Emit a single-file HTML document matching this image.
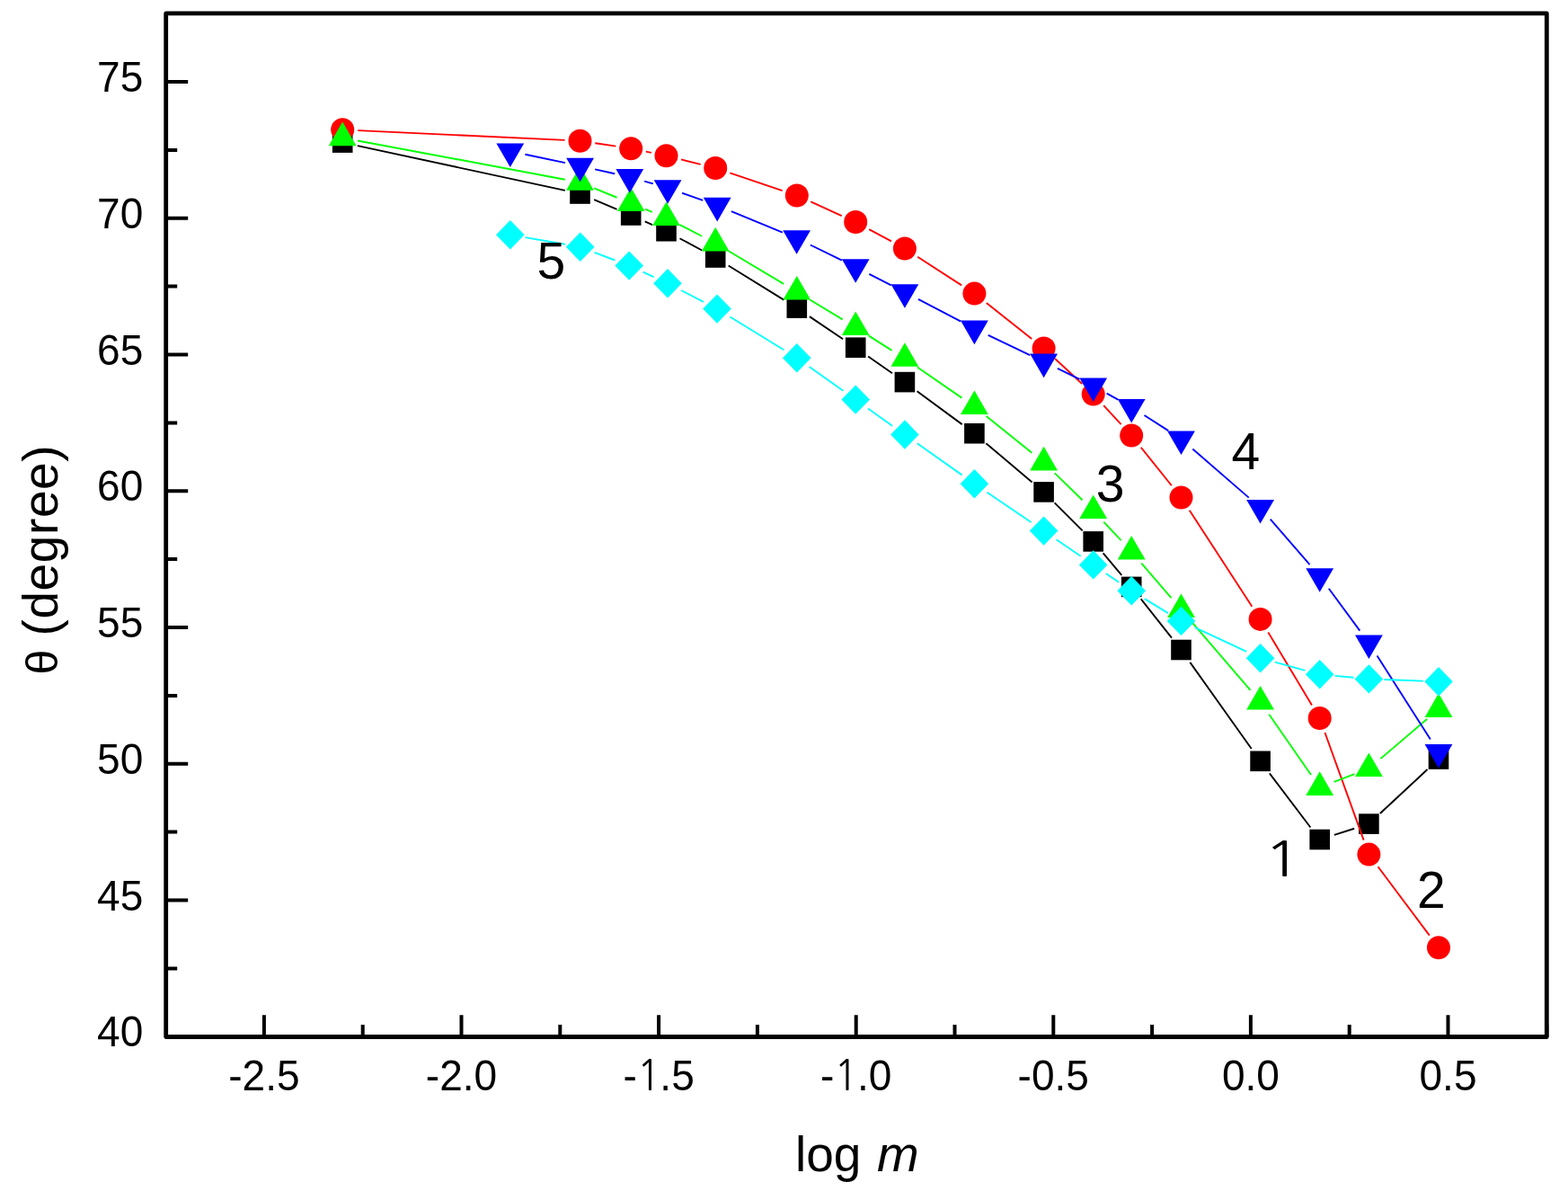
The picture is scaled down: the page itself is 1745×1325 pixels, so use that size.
<!DOCTYPE html>
<html><head><meta charset="utf-8"><title>theta vs log m</title>
<style>html,body{margin:0;padding:0;background:#fff;overflow:hidden;}svg{display:block;}</style>
</head><body>
<svg width="1745" height="1325" viewBox="0 0 1745 1325">
<rect width="1745" height="1325" fill="#fff"/>
<g><path d="M397.82 162.18L628.88 211.92M661.16 222.13L686.54 232.87M717.7 246.48L726 250.22M756.49 265.23L781.21 278.47M810.65 295.45L872.35 333.65M900.89 352.1L938.11 377.2M966.11 396.47L992.99 415.33M1020.59 435.18L1070.71 472.12M1097.39 493.17L1148.61 536.43M1173.63 559.41L1204.67 590.39M1227.65 615.41L1248.25 639.89M1269.73 666.25L1303.97 709.65M1324.36 736.85L1392.74 832.95M1412.87 860.35L1458.43 920.45M1484.9 928.85L1507.2 921.75M1535.85 905.03L1588.55 856.07" stroke="#000000" stroke-width="1.9" fill="none"/><g fill="#000000"><rect x="369.9" y="147.3" width="22.6" height="22.6"/><rect x="634.2" y="204.2" width="22.6" height="22.6"/><rect x="690.9" y="228.2" width="22.6" height="22.6"/><rect x="730.2" y="245.9" width="22.6" height="22.6"/><rect x="784.9" y="275.2" width="22.6" height="22.6"/><rect x="875.5" y="331.3" width="22.6" height="22.6"/><rect x="940.9" y="375.4" width="22.6" height="22.6"/><rect x="995.6" y="413.8" width="22.6" height="22.6"/><rect x="1073.1" y="470.9" width="22.6" height="22.6"/><rect x="1150.3" y="536.1" width="22.6" height="22.6"/><rect x="1205.4" y="591.1" width="22.6" height="22.6"/><rect x="1247.9" y="641.6" width="22.6" height="22.6"/><rect x="1303.2" y="711.7" width="22.6" height="22.6"/><rect x="1391.3" y="835.5" width="22.6" height="22.6"/><rect x="1457.4" y="922.7" width="22.6" height="22.6"/><rect x="1512.1" y="905.3" width="22.6" height="22.6"/><rect x="1589.7" y="833.2" width="22.6" height="22.6"/></g><path d="M398.18 145.1L628.52 155.9M662.31 159.22L685.39 162.68M718.85 168.63L724.85 169.87M757.99 177.43L779.71 182.87M812.31 192.42L870.69 212.08M902.3 224.49L936.7 240.01M967.16 255.07L991.94 268.43M1021.18 285.73L1070.12 317.37M1097.76 337.12L1148.24 376.88M1174.05 398.97L1204.25 427.03M1228.25 451.07L1247.65 472.03M1269.83 497.77L1303.87 540.23M1323.77 567.75L1393.33 674.65M1411.35 703.48L1459.95 784.42M1474.47 814.99L1517.63 934.61M1533.59 964.21L1590.81 1040.69" stroke="#ff0000" stroke-width="1.9" fill="none"/><g fill="#ff0000"><circle cx="381.2" cy="144.3" r="13"/><circle cx="645.5" cy="156.7" r="13"/><circle cx="702.2" cy="165.2" r="13"/><circle cx="741.5" cy="173.3" r="13"/><circle cx="796.2" cy="187" r="13"/><circle cx="886.8" cy="217.5" r="13"/><circle cx="952.2" cy="247" r="13"/><circle cx="1006.9" cy="276.5" r="13"/><circle cx="1084.4" cy="326.6" r="13"/><circle cx="1161.6" cy="387.4" r="13"/><circle cx="1216.7" cy="438.6" r="13"/><circle cx="1259.2" cy="484.5" r="13"/><circle cx="1314.5" cy="553.5" r="13"/><circle cx="1402.6" cy="688.9" r="13"/><circle cx="1468.7" cy="799" r="13"/><circle cx="1523.4" cy="950.6" r="13"/><circle cx="1601" cy="1054.3" r="13"/></g><path d="M397.91 156.46L628.79 199.7M661.21 209.32L686.49 219.75M717.95 232.64L725.75 235.82M756.6 250.05L781.1 262.72M810.8 279.25L872.2 315.92M901.34 333.44L937.66 355.43M966.56 373.34L992.54 389.83M1020.91 408.57L1070.39 442.6M1097.63 462.91L1148.37 503.86M1173.79 526.39L1204.51 556.28M1228.3 580.56L1247.6 601.21M1270.27 626.54L1303.43 665.23M1325.57 691.03L1391.53 767.84M1412.29 794.7L1459.01 862.06M1484.58 869.97L1507.52 861.2M1536.34 844.11L1588.06 800.06" stroke="#00ff00" stroke-width="1.9" fill="none"/><g fill="#00ff00"><path d="M381.2 135.6L396.6 162.2L365.8 162.2Z"/><path d="M645.5 185.1L660.9 211.7L630.1 211.7Z"/><path d="M702.2 208.5L717.6 235.1L686.8 235.1Z"/><path d="M741.5 224.5L756.9 251.1L726.1 251.1Z"/><path d="M796.2 252.8L811.6 279.4L780.8 279.4Z"/><path d="M886.8 306.9L902.2 333.5L871.4 333.5Z"/><path d="M952.2 346.5L967.6 373.1L936.8 373.1Z"/><path d="M1006.9 381.2L1022.3 407.8L991.5 407.8Z"/><path d="M1084.4 434.5L1099.8 461.1L1069 461.1Z"/><path d="M1161.6 496.8L1177 523.4L1146.2 523.4Z"/><path d="M1216.7 550.4L1232.1 577L1201.3 577Z"/><path d="M1259.2 595.9L1274.6 622.5L1243.8 622.5Z"/><path d="M1314.5 660.4L1329.9 687L1299.1 687Z"/><path d="M1402.6 763L1418 789.6L1387.2 789.6Z"/><path d="M1468.7 858.3L1484.1 884.9L1453.3 884.9Z"/><path d="M1523.4 837.4L1538.8 864L1508 864Z"/><path d="M1601 771.3L1616.4 797.9L1585.6 797.9Z"/></g><path d="M584.43 171.77L628.97 181.16M662.19 188.36L684.21 193.27M717.14 201.64L726.76 204.39M759.12 214.76L782.18 222.97M813.92 235.14L870.88 258.59M901.88 272.52L936.92 289.61M967.33 304.81L991.77 317.32M1021.97 332.92L1069.33 357.61M1099.73 372.81L1146.27 395.12M1176.88 409.92L1201.42 421.91M1231.59 437.57L1244.31 444.57M1273.49 461.97L1300.21 479.16M1327.34 499.5L1389.76 553.63M1413.73 577.62L1457.57 628.22M1478.79 654.75L1513.31 701.58M1532.55 729.59L1591.85 822.44" stroke="#0000ff" stroke-width="1.9" fill="none"/><g fill="#0000ff"><path d="M552.4 159.4L583.2 159.4L567.8 186Z"/><path d="M630.2 175.8L661 175.8L645.6 202.4Z"/><path d="M685.4 188.1L716.2 188.1L700.8 214.7Z"/><path d="M727.7 200.2L758.5 200.2L743.1 226.8Z"/><path d="M782.8 219.8L813.6 219.8L798.2 246.4Z"/><path d="M871.2 256.2L902 256.2L886.6 282.8Z"/><path d="M936.8 288.2L967.6 288.2L952.2 314.8Z"/><path d="M991.5 316.2L1022.3 316.2L1006.9 342.8Z"/><path d="M1069 356.6L1099.8 356.6L1084.4 383.2Z"/><path d="M1146.2 393.6L1177 393.6L1161.6 420.2Z"/><path d="M1201.3 420.5L1232.1 420.5L1216.7 447.1Z"/><path d="M1243.8 443.9L1274.6 443.9L1259.2 470.5Z"/><path d="M1299.1 479.5L1329.9 479.5L1314.5 506.1Z"/><path d="M1387.2 555.9L1418 555.9L1402.6 582.5Z"/><path d="M1453.3 632.2L1484.1 632.2L1468.7 658.8Z"/><path d="M1508 706.4L1538.8 706.4L1523.4 733Z"/><path d="M1585.6 827.9L1616.4 827.9L1601 854.5Z"/></g><path d="M584.55 264.1L628.95 271.8M661.57 280.79L684.33 289.51M715.66 302.68L727.54 308.12M758.11 323L782.89 335.8M812.48 352.5L872.32 389.3M900.66 408.04L938.34 434.76M966.05 454.45L993.05 473.65M1020.79 493.3L1070.51 528.4M1098.47 547.75L1147.53 581.05M1175.62 600.22L1202.68 618.78M1230.76 637.96L1245.14 647.74M1273.73 666.13L1299.97 682.07M1329.89 698.12L1387.21 724.98M1419 736.69L1452.3 745.81M1485.63 751.88L1506.47 753.82M1540.39 756.01L1584.01 757.59" stroke="#00ffff" stroke-width="1.9" fill="none"/><g fill="#00ffff"><path d="M567.8 245L583.6 261.2L567.8 277.4L552 261.2Z"/><path d="M645.7 258.5L661.5 274.7L645.7 290.9L629.9 274.7Z"/><path d="M700.2 279.4L716 295.6L700.2 311.8L684.4 295.6Z"/><path d="M743 299L758.8 315.2L743 331.4L727.2 315.2Z"/><path d="M798 327.4L813.8 343.6L798 359.8L782.2 343.6Z"/><path d="M886.8 382L902.6 398.2L886.8 414.4L871 398.2Z"/><path d="M952.2 428.4L968 444.6L952.2 460.8L936.4 444.6Z"/><path d="M1006.9 467.3L1022.7 483.5L1006.9 499.7L991.1 483.5Z"/><path d="M1084.4 522L1100.2 538.2L1084.4 554.4L1068.6 538.2Z"/><path d="M1161.6 574.4L1177.4 590.6L1161.6 606.8L1145.8 590.6Z"/><path d="M1216.7 612.2L1232.5 628.4L1216.7 644.6L1200.9 628.4Z"/><path d="M1259.2 641.1L1275 657.3L1259.2 673.5L1243.4 657.3Z"/><path d="M1314.5 674.7L1330.3 690.9L1314.5 707.1L1298.7 690.9Z"/><path d="M1402.6 716L1418.4 732.2L1402.6 748.4L1386.8 732.2Z"/><path d="M1468.7 734.1L1484.5 750.3L1468.7 766.5L1452.9 750.3Z"/><path d="M1523.4 739.2L1539.2 755.4L1523.4 771.6L1507.6 755.4Z"/><path d="M1601 742L1616.8 758.2L1601 774.4L1585.2 758.2Z"/></g></g>
<path d="M293.9 1153.5V1129.2M513.5 1153.5V1129.2M733.1 1153.5V1129.2M952.7 1153.5V1129.2M1172.3 1153.5V1129.2M1391.9 1153.5V1129.2M1611.5 1153.5V1129.2M403.7 1153.5V1140M623.3 1153.5V1140M842.9 1153.5V1140M1062.5 1153.5V1140M1282.1 1153.5V1140M1501.7 1153.5V1140M1721.3 1153.5V1140M184.7 1153.25H209.2M184.7 1001.5H209.2M184.7 849.75H209.2M184.7 698H209.2M184.7 546.25H209.2M184.7 394.5H209.2M184.7 242.75H209.2M184.7 91H209.2M184.7 1077.38H197.2M184.7 925.62H197.2M184.7 773.88H197.2M184.7 622.12H197.2M184.7 470.38H197.2M184.7 318.62H197.2M184.7 166.88H197.2" stroke="#000" stroke-width="4.0" fill="none"/>
<rect x="184.7" y="14.9" width="1536.6" height="1138.6" stroke="#000" stroke-width="4.8" stroke-linejoin="round" fill="none"/>
<g font-family="Liberation Sans, Arial, sans-serif" font-size="49" fill="#000"><text transform="translate(293.9 1212.8) scale(0.94 1)" text-anchor="middle">-2.5</text><text transform="translate(513.5 1212.8) scale(0.94 1)" text-anchor="middle">-2.0</text><text transform="translate(733.1 1212.8) scale(0.94 1)" text-anchor="middle">-<tspan font-family="NanumGothic, sans-serif" font-size="46.8">1</tspan><tspan dx="-1.11">.</tspan>5</text><text transform="translate(952.7 1212.8) scale(0.94 1)" text-anchor="middle">-<tspan font-family="NanumGothic, sans-serif" font-size="46.8">1</tspan><tspan dx="-1.11">.</tspan>0</text><text transform="translate(1172.3 1212.8) scale(0.94 1)" text-anchor="middle">-0.5</text><text transform="translate(1391.9 1212.8) scale(0.94 1)" text-anchor="middle">0.0</text><text transform="translate(1611.5 1212.8) scale(0.94 1)" text-anchor="middle">0.5</text><text transform="translate(159.3 1164.35) scale(0.94 1)" text-anchor="end">40</text><text transform="translate(159.3 1012.6) scale(0.94 1)" text-anchor="end">45</text><text transform="translate(159.3 860.85) scale(0.94 1)" text-anchor="end">50</text><text transform="translate(159.3 709.1) scale(0.94 1)" text-anchor="end">55</text><text transform="translate(159.3 557.35) scale(0.94 1)" text-anchor="end">60</text><text transform="translate(159.3 405.6) scale(0.94 1)" text-anchor="end">65</text><text transform="translate(159.3 253.85) scale(0.94 1)" text-anchor="end">70</text><text transform="translate(159.3 102.1) scale(0.94 1)" text-anchor="end">75</text></g>
<g font-family="Liberation Sans, Arial, sans-serif" font-size="57" fill="#000"><text x="597.4" y="310.4">5</text><text x="1370.4" y="522.2">4</text><text x="1219.65" y="557.8">3</text><text x="1577" y="1010.2">2</text><text transform="translate(1424.15 975.3) scale(1.29 1)" font-family="NanumGothic, sans-serif" font-size="54.2" x="-13.85">1</text></g>
<text x="885" y="1303" font-family="Liberation Sans, Arial, sans-serif" font-size="55" fill="#000">log <tspan font-style="italic" dx="2.3" font-size="56">m</tspan></text>
<text transform="translate(64.4 750.5) rotate(-90)" font-family="Liberation Sans, Arial, sans-serif" font-size="50" fill="#000">θ</text>
<text transform="translate(64.2 707.5) rotate(-90)" font-family="Liberation Sans, Arial, sans-serif" font-size="55" letter-spacing="0.6" fill="#000">(degree)</text>
</svg>
</body></html>
